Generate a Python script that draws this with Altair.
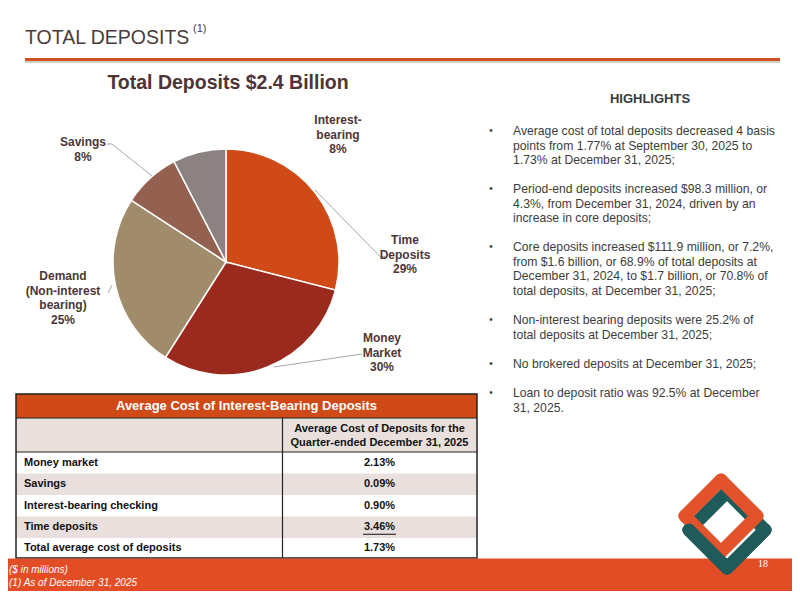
import altair as alt
import pandas as pd

# ---------------- data ----------------
slide_title = "TOTAL DEPOSITS"
slide_title_note = "(1)"
pie_title = "Total Deposits $2.4 Billion"

slice_names = ["Time Deposits", "Money Market", "Demand (Non-interest bearing)", "Savings", "Interest-bearing"]
slice_shares = [29.0, 30.0, 25.2, 8.2, 7.6]
slice_label_lines = [
    ["Time", "Deposits", "29%"],
    ["Money", "Market", "30%"],
    ["Demand", "(Non-interest", "bearing)", "25%"],
    ["Savings", "8%"],
    ["Interest-", "bearing", "8%"],
]
slice_colors = ["#D04A17", "#9A2A1E", "#A08C6A", "#94604F", "#8D8282"]

table_title = "Average Cost of Interest-Bearing Deposits"
table_col_header = ["Average Cost of Deposits for the", "Quarter-ended December 31, 2025"]
table_rows = ["Money market", "Savings", "Interest-bearing checking", "Time deposits",
              "Total average cost of deposits"]
table_values = ["2.13%", "0.09%", "0.90%", "3.46%", "1.73%"]

highlights_title = "HIGHLIGHTS"
highlights = [
    ["Average cost of total deposits decreased 4 basis",
     "points from 1.77% at September 30, 2025 to",
     "1.73% at December 31, 2025;"],
    ["Period-end deposits increased $98.3 million, or",
     "4.3%, from December 31, 2024, driven by an",
     "increase in core deposits;"],
    ["Core deposits increased $111.9 million, or 7.2%,",
     "from $1.6 billion, or 68.9% of total deposits at",
     "December 31, 2024, to $1.7 billion, or 70.8% of",
     "total deposits, at December 31, 2025;"],
    ["Non-interest bearing deposits were 25.2% of",
     "total deposits at December 31, 2025;"],
    ["No brokered deposits at December 31, 2025;"],
    ["Loan to deposit ratio was 92.5% at December",
     "31, 2025."],
]

footnotes = ["($ in millions)", "(1) As of December 31, 2025"]
page_number = "18"

# ---------------- layout (page pixels) ----------------
W, H = 784, 583
OFF = 8


def P(v):
    return v - OFF


FONT = "Liberation Sans"
LABEL_COLOR = "#4E3636"
ORANGE = "#D04A18"

pie_center = (226, 262)
pie_radius = 113
label_first_line = [(405, 240), (382, 338), (63, 276), (83, 142), (338, 120)]
label_lh = 14.5
highlight_first_line = [131, 189, 247, 320, 364, 393]
highlight_lh = 14.7

tbl_x0, tbl_x1, tbl_div = 16, 477, 282.5
tbl_top, tbl_head_bot, tbl_sub_bot = 394, 418, 452
row_edges = [452, 473.5, 495, 516.5, 538, 558]


def xy_enc(xf="x", yf="y"):
    return dict(x=alt.X(f"{xf}:Q", scale=None, axis=None),
                y=alt.Y(f"{yf}:Q", scale=None, axis=None))


def text_layer(rows, **kw):
    df = pd.DataFrame(rows, columns=["t", "x", "y"])
    df["x"] = df["x"].map(P)
    df["y"] = df["y"].map(P)
    return alt.Chart(df).mark_text(baseline="middle", **kw).encode(
        text="t:N", **xy_enc())


def rect_layer(rows, **kw):
    df = pd.DataFrame(rows, columns=["x", "x2", "y", "y2"])
    for c in df.columns:
        df[c] = df[c].map(P)
    return alt.Chart(df).mark_rect(**kw).encode(
        x2="x2:Q", y2="y2:Q", **xy_enc())


def rule_layer(rows, **kw):
    df = pd.DataFrame(rows, columns=["x", "y", "x2", "y2"])
    for c in df.columns:
        df[c] = df[c].map(P)
    return alt.Chart(df).mark_rule(**kw).encode(
        x2="x2:Q", y2="y2:Q", **xy_enc())


def ring_sides(cx, cy, r):
    top, right, bottom, left = (cx, cy - r), (cx + r, cy), (cx, cy + r), (cx - r, cy)
    return {"tl": (*left, *top), "tr": (*top, *right), "br": (*right, *bottom), "bl": (*bottom, *left)}


layers = []

# title + rule
layers.append(text_layer([(slide_title, 25, 38)], align="left", font=FONT, fontSize=19.5,
                         color="#4A3C3C"))
layers.append(text_layer([(slide_title_note, 193, 29)], align="left", font=FONT, fontSize=11,
                         color="#4A3C3C"))
layers.append(rule_layer([(25, 62, 780, 62)], color="#CFCFCF", strokeWidth=2))
layers.append(rule_layer([(25, 59.5, 780, 59.5)], color="#D2501F", strokeWidth=3))
layers.append(text_layer([(pie_title, 228, 83)], align="center", font=FONT, fontSize=19.5,
                         fontWeight="bold", color="#4E3434"))

# pie
pie_df = pd.DataFrame({"name": slice_names, "share": slice_shares, "order": list(range(len(slice_names)))})
layers.append(
    alt.Chart(pie_df).mark_arc(radius=pie_radius, stroke="white", strokeWidth=1.5).encode(
        theta=alt.Theta("share:Q", stack=True),
        color=alt.Color("name:N", scale=alt.Scale(domain=slice_names, range=slice_colors), legend=None),
        order=alt.Order("order:Q"),
        x=alt.value(P(pie_center[0])),
        y=alt.value(P(pie_center[1])),
    )
)

# leader lines
layers.append(rule_layer([
    (315, 190, 380, 256.5), (380, 256.5, 385, 256.5),
    (362, 354, 274, 367),
    (107, 144, 112, 144), (112, 144, 152, 176),
    (108, 293, 112, 285),
], color="#A6A6A6", strokeWidth=1))

# pie labels
lab_rows = []
for lines, (lx, ly) in zip(slice_label_lines, label_first_line):
    for i, ln in enumerate(lines):
        lab_rows.append((ln, lx, ly + i * label_lh))
layers.append(text_layer(lab_rows, align="center", font=FONT, fontSize=12, fontWeight="bold",
                         color=LABEL_COLOR))

# highlights
layers.append(text_layer([(highlights_title, 650, 99)], align="center", font=FONT, fontSize=13,
                         fontWeight="bold", color="#3A3A3A"))
hl_rows, bullet_rows = [], []
for para, y0 in zip(highlights, highlight_first_line):
    bullet_rows.append(("•", 491, y0))
    for i, ln in enumerate(para):
        hl_rows.append((ln, 513, y0 + i * highlight_lh))
layers.append(text_layer(hl_rows, align="left", font=FONT, fontSize=12.2, color="#3C3C3C"))
layers.append(text_layer(bullet_rows, align="center", font=FONT, fontSize=10, color="#3C3C3C"))

# table backgrounds
layers.append(rect_layer([(tbl_x0, tbl_x1, tbl_top, tbl_head_bot)], color=ORANGE))
layers.append(rect_layer([(tbl_x0, tbl_x1, tbl_head_bot, tbl_sub_bot)], color="#E9E0DD"))
pink_rows = [(tbl_x0, tbl_x1, row_edges[i], row_edges[i + 1]) for i in range(len(table_rows)) if i % 2 == 1]
layers.append(rect_layer(pink_rows, color="#E9E0DD"))
# table lines
layers.append(rule_layer([
    (tbl_x0, tbl_head_bot, tbl_x1, tbl_head_bot),
    (tbl_x0, tbl_sub_bot, tbl_x1, tbl_sub_bot),
    (tbl_div, tbl_head_bot, tbl_div, row_edges[-1]),
], color="#222222", strokeWidth=1.2))
layers.append(rect_layer([(tbl_x0, tbl_x1, tbl_top, row_edges[-1])], fill=None, fillOpacity=0,
                         stroke="#222222", strokeWidth=1.5))
# table text
layers.append(text_layer([(table_title, 246.5, 406)], align="center", font=FONT, fontSize=13,
                         fontWeight="bold", color="white"))
layers.append(text_layer([(ln, 379.5, 429 + i * 13.5) for i, ln in enumerate(table_col_header)],
                         align="center", font=FONT, fontSize=11, fontWeight="bold", color="#111111"))
row_mid = [(row_edges[i] + row_edges[i + 1]) / 2 for i in range(len(table_rows))]
layers.append(text_layer([(r, 24, m) for r, m in zip(table_rows, row_mid)],
                         align="left", font=FONT, fontSize=11, fontWeight="bold", color="#111111"))
layers.append(text_layer([(v, 379.5, m) for v, m in zip(table_values, row_mid)],
                         align="center", font=FONT, fontSize=11, fontWeight="bold", color="#111111"))
# underline under the time-deposit value
layers.append(rule_layer([(363, row_mid[3] + 7, 396, row_mid[3] + 7)], color="#111111", strokeWidth=1))

# footer band
layers.append(rect_layer([(OFF, OFF + W, 558.5, OFF + H)], color="#E34D25"))
layers.append(text_layer([(footnotes[0], 9, 570), (footnotes[1], 9, 583)], align="left",
                         font="Liberation Sans Narrow, Arial Narrow, Liberation Sans", fontSize=10,
                         fontStyle="italic", color="white"))
layers.append(text_layer([(page_number, 763, 564)], align="center", font="Liberation Serif",
                         fontSize=10, color="white"))

# logo: two interlocking rounded diamond rings
orange_ring = ring_sides(721, 516, 36)
teal_ring = ring_sides(727, 530, 38)
TEAL, LOGO_OR = "#1F5B5B", "#E2522B"
ring_kw = dict(strokeWidth=13, strokeCap="round")
layers.append(rule_layer(list(teal_ring.values()), color=TEAL, **ring_kw))
layers.append(rule_layer(list(orange_ring.values()), color=LOGO_OR, **ring_kw))
layers.append(rule_layer([teal_ring["bl"], teal_ring["br"]], color=TEAL, **ring_kw))

chart = alt.layer(*layers).properties(
    width=W, height=H, padding=0, autosize=alt.AutoSizeParams(type="none"),
    background="white",
).configure_view(stroke=None)

chart.save("out.html", embed_options={"renderer": "svg", "actions": False})
